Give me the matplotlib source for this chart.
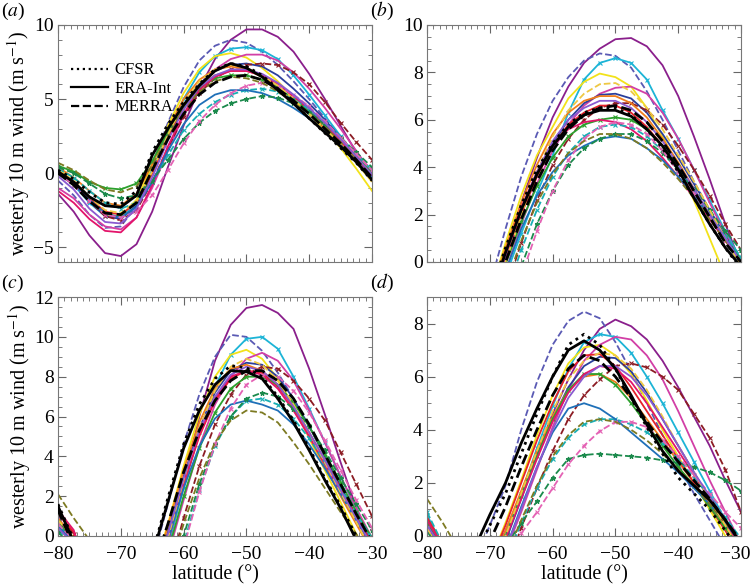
import matplotlib
matplotlib.use("Agg")
import matplotlib.pyplot as plt
from matplotlib.ticker import MultipleLocator
from matplotlib.lines import Line2D
from matplotlib.transforms import ScaledTranslation

plt.rcParams['font.family'] = ['serif']
plt.rcParams['font.serif'] = ['Liberation Serif', 'Times New Roman', 'DejaVu Serif']
plt.rcParams['mathtext.fontset'] = 'stix'

# latitude grid (degrees)
lat = [-80, -77.5, -75, -72.5, -70, -67.5, -65, -62.5, -60, -57.5, -55,
       -52.5, -50, -47.5, -45, -42.5, -40, -37.5, -35, -32.5, -30]
lat_ticks = [-80, -70, -60, -50, -40, -30]

# model line styles (same model = same style in every panel)
model_colors = ['#8a1f8c', '#5a5ab4', '#1cb4d6', '#f2e21a', '#d23fa6', '#2a3f9c',
                '#8c1c24', '#f07d1c', '#e6222a', '#2ca02c', '#e3146a', '#18aeb4',
                '#1f70b8', '#1b8a4c', '#e462b4', '#7d7a22', '#eec843', '#8a5ad0']
model_ls = ['-', '--', '-', '-', '-', '-', '--', '-', '-', '-', '-', '--',
            '-', '--', '--', '--', '--', '-']
model_mk = ['', '', 'x', '', '', '', 'x', '', '', 'x', '', 'x',
            '', '*', 'x', '', '', '']

rean_names = ['CFSR', 'ERA-Int', 'MERRA']
rean_ls = [':', '-', '--']

# ---------------- panel (a) ----------------
rean_a = [
    [0.2, -0.4, -1.3, -2.0, -2.1, -1.2, 1.4, 3.3, 4.8, 6.0, 7.0, 7.4, 7.2, 6.6, 5.7, 4.7, 3.7, 2.7, 1.7, 0.7, -0.5],
    [0.1, -0.6, -1.6, -2.2, -2.3, -1.5, 1.2, 3.0, 4.6, 5.9, 6.9, 7.4, 7.1, 6.5, 5.6, 4.7, 3.7, 2.75, 1.8, 0.75, -0.45],
    [0.0, -0.8, -1.9, -2.7, -2.8, -2.0, 0.2, 2.3, 4.0, 5.3, 6.1, 6.5, 6.6, 6.3, 5.7, 4.9, 4.0, 3.0, 2.0, 0.9, -0.3],
]
models_a = [
    [-1.4, -2.6, -4.2, -5.4, -5.6, -4.8, -2.6, 0.4, 3.2, 5.7, 7.7, 9.0, 9.7, 9.7, 9.2, 8.2, 6.7, 5.0, 3.2, 1.4, -0.4],
    [-0.5, -1.5, -2.8, -3.7, -3.6, -2.2, 0.5, 3.4, 5.8, 7.6, 8.6, 9.0, 8.8, 8.2, 7.3, 6.2, 5.0, 3.7, 2.4, 1.0, -0.4],
    [0.0, -0.8, -2.0, -2.9, -3.0, -2.0, 0.2, 2.8, 5.0, 6.8, 7.9, 8.4, 8.5, 8.3, 7.7, 6.6, 5.3, 3.9, 2.5, 1.1, -0.3],
    [0.3, -0.6, -1.8, -2.8, -2.9, -1.8, 0.5, 3.2, 5.4, 7.0, 7.9, 8.1, 7.8, 7.1, 6.2, 5.1, 4.0, 2.9, 1.7, 0.3, -1.2],
    [-1.0, -1.7, -2.8, -3.6, -3.8, -3.0, -1.0, 1.5, 3.9, 5.8, 7.0, 7.7, 8.0, 8.0, 7.6, 6.8, 5.7, 4.4, 3.0, 1.5, 0.0],
    [0.2, -0.7, -1.9, -2.9, -3.1, -2.2, 0.0, 2.5, 4.6, 6.0, 6.9, 7.3, 7.4, 7.2, 6.6, 5.7, 4.7, 3.6, 2.4, 1.1, -0.2],
    [0.0, -0.8, -1.9, -2.9, -3.2, -2.5, -0.6, 1.7, 3.8, 5.4, 6.4, 7.0, 7.3, 7.4, 7.3, 6.8, 6.0, 4.8, 3.4, 2.1, 0.9],
    [0.4, -0.3, -1.2, -2.0, -2.2, -1.4, 0.6, 3.0, 5.0, 6.3, 7.0, 7.2, 7.0, 6.5, 5.8, 4.9, 4.0, 3.0, 2.0, 0.9, -0.3],
    [0.1, -0.6, -1.7, -2.6, -2.8, -2.0, 0.0, 2.4, 4.4, 5.8, 6.6, 6.9, 6.9, 6.6, 6.0, 5.2, 4.3, 3.3, 2.2, 1.0, -0.2],
    [0.5, 0.1, -0.6, -1.0, -1.1, -0.7, 0.8, 2.8, 4.5, 5.7, 6.4, 6.6, 6.6, 6.3, 5.8, 5.0, 4.2, 3.2, 2.2, 1.1, 0.0],
    [-1.2, -2.0, -3.1, -3.9, -4.0, -3.0, -0.8, 1.8, 4.0, 5.6, 6.5, 6.9, 6.9, 6.6, 6.0, 5.2, 4.3, 3.3, 2.2, 1.0, -0.2],
    [0.3, -0.3, -1.2, -2.0, -2.4, -2.0, -0.6, 1.2, 2.9, 4.0, 4.8, 5.3, 5.6, 5.7, 5.5, 5.0, 4.3, 3.4, 2.4, 1.3, 0.2],
    [0.0, -0.7, -1.8, -2.7, -3.0, -2.3, -0.6, 1.5, 3.3, 4.6, 5.3, 5.6, 5.6, 5.4, 5.0, 4.4, 3.7, 2.8, 1.9, 0.8, -0.3],
    [0.4, 0.0, -0.7, -1.4, -1.7, -1.5, -0.5, 0.9, 2.3, 3.4, 4.2, 4.7, 5.0, 5.2, 5.1, 4.7, 4.1, 3.3, 2.4, 1.4, 0.4],
    [0.0, -0.8, -1.9, -2.8, -3.0, -2.6, -1.5, 0.2, 2.0, 3.5, 4.6, 5.4, 5.9, 6.1, 5.9, 5.3, 4.5, 3.5, 2.4, 1.3, 0.2],
    [0.7, 0.2, -0.5, -1.1, -1.3, -0.9, 0.5, 2.5, 4.3, 5.5, 6.2, 6.5, 6.4, 6.1, 5.5, 4.8, 4.0, 3.1, 2.1, 1.0, -0.1],
    [0.2, -0.5, -1.6, -2.5, -2.7, -1.9, 0.1, 2.6, 4.7, 6.2, 7.0, 7.3, 7.1, 6.6, 5.9, 5.0, 4.0, 3.0, 1.9, 0.7, -0.6],
    [-0.2, -1.1, -2.4, -3.3, -3.4, -2.4, -0.3, 2.2, 4.3, 5.8, 6.6, 7.0, 7.0, 6.7, 6.1, 5.3, 4.4, 3.4, 2.3, 1.1, -0.1],
]

# ---------------- panel (b) ----------------
rean_b = [
    [-2.8, -3.3, -3.6, -3.0, -1.4, 0.6, 2.4, 3.9, 5.0, 5.8, 6.3, 6.5, 6.5, 6.2, 5.6, 4.8, 3.8, 2.7, 1.6, 0.6, -0.3],
    [-3.0, -3.5, -3.8, -3.2, -1.6, 0.4, 2.2, 3.7, 4.9, 5.7, 6.2, 6.4, 6.4, 6.15, 5.6, 4.9, 3.9, 2.7, 1.6, 0.6, -0.2],
    [-3.2, -3.7, -4.0, -3.5, -2.0, 0.0, 1.8, 3.4, 4.7, 5.6, 6.2, 6.5, 6.6, 6.4, 5.9, 5.1, 4.1, 3.0, 1.9, 0.8, 0.0],
]
models_b = [
    [-4.0, -4.5, -4.5, -4.0, -2.5, 0.3, 2.5, 4.4, 6.1, 7.4, 8.4, 9.0, 9.4, 9.45, 9.1, 8.3, 7.0, 5.3, 3.5, 1.6, -0.1],
    [-3.0, -3.5, -3.5, -2.8, -1.0, 1.4, 3.6, 5.4, 6.8, 7.8, 8.5, 8.8, 8.7, 8.2, 7.2, 6.0, 4.7, 3.4, 2.2, 1.0, -0.2],
    [-4.0, -4.5, -4.5, -4.0, -2.5, -0.6, 1.2, 2.9, 4.5, 6.3, 7.7, 8.4, 8.6, 8.4, 7.7, 6.4, 5.2, 3.9, 2.6, 1.3, 0.1],
    [-3.5, -4.0, -4.0, -3.3, -1.4, 0.8, 2.8, 4.5, 5.7, 6.9, 7.6, 7.95, 7.8, 7.4, 6.5, 5.3, 4.0, 2.6, 1.0, -0.6, -2.0],
    [-4.5, -5.0, -5.0, -4.5, -2.6, -0.4, 1.6, 3.3, 4.7, 5.8, 6.6, 7.1, 7.35, 7.4, 7.1, 6.3, 5.2, 3.9, 2.5, 1.2, 0.0],
    [-4.0, -4.5, -4.5, -3.8, -2.0, 0.2, 2.1, 3.7, 5.0, 6.0, 6.7, 7.05, 7.1, 6.9, 6.3, 5.4, 4.4, 3.3, 2.2, 1.1, 0.0],
    [-5.0, -5.5, -5.5, -5.0, -3.5, -1.2, 0.8, 2.6, 4.1, 5.2, 6.0, 6.5, 6.7, 6.7, 6.4, 5.8, 4.9, 3.9, 2.8, 1.6, 0.5],
    [-3.5, -4.0, -4.0, -3.3, -1.5, 0.6, 2.5, 4.1, 5.4, 6.3, 6.8, 7.0, 7.0, 6.7, 6.1, 5.2, 4.2, 3.1, 2.0, 1.0, 0.0],
    [-4.0, -4.5, -4.5, -3.8, -2.0, 0.1, 2.0, 3.6, 4.9, 5.8, 6.3, 6.6, 6.6, 6.3, 5.7, 4.9, 3.9, 2.9, 1.9, 0.9, 0.0],
    [-4.0, -4.5, -4.5, -4.0, -2.2, -0.1, 1.7, 3.2, 4.4, 5.3, 5.8, 6.0, 6.1, 6.0, 5.6, 4.9, 4.0, 3.0, 2.0, 1.0, 0.1],
    [-3.5, -4.0, -4.0, -3.5, -1.8, 0.4, 2.3, 3.8, 4.9, 5.6, 5.9, 6.0, 5.9, 5.6, 5.1, 4.4, 3.6, 2.7, 1.8, 0.9, 0.0],
    [-5.0, -5.5, -5.5, -5.0, -3.5, -1.4, 0.5, 2.2, 3.6, 4.6, 5.3, 5.7, 5.8, 5.7, 5.3, 4.7, 3.9, 3.0, 2.0, 1.1, 0.2],
    [-4.5, -5.0, -5.0, -4.2, -2.5, -0.4, 1.4, 2.8, 3.8, 4.5, 4.9, 5.2, 5.3, 5.2, 4.8, 4.3, 3.6, 2.8, 1.9, 1.0, 0.0],
    [-6.0, -6.5, -6.5, -6.0, -4.5, -2.2, -0.2, 1.6, 3.0, 4.1, 4.8, 5.2, 5.4, 5.4, 5.1, 4.6, 3.9, 3.1, 2.2, 1.3, 0.5],
    [-6.0, -6.5, -6.5, -6.0, -5.0, -2.8, -0.6, 1.3, 3.0, 4.3, 5.2, 5.7, 5.9, 5.8, 5.4, 4.7, 3.8, 2.9, 1.9, 0.9, 0.0],
    [-5.0, -5.5, -5.5, -4.8, -3.2, -1.0, 0.9, 2.5, 3.7, 4.6, 5.1, 5.4, 5.4, 5.2, 4.8, 4.2, 3.5, 2.7, 1.8, 0.9, 0.0],
    [-4.0, -4.5, -4.5, -3.8, -2.2, 0.0, 2.0, 3.8, 5.3, 6.4, 7.1, 7.5, 7.55, 7.2, 6.5, 5.6, 4.5, 3.4, 2.2, 1.0, -0.2],
    [-3.8, -4.3, -4.3, -3.6, -1.9, 0.3, 2.2, 3.8, 5.1, 6.0, 6.5, 6.8, 6.8, 6.5, 5.9, 5.1, 4.1, 3.1, 2.0, 1.0, 0.0],
]

# ---------------- panel (c) ----------------
rean_c = [
    [1.6, -0.2, -1.9, -2.9, -3.4, -2.7, -0.9, 1.9, 4.6, 6.6, 7.9, 8.55, 8.45, 8.0, 7.0, 5.8, 4.4, 2.9, 1.5, 0.0, -1.3],
    [1.5, -0.3, -2.0, -3.0, -3.5, -2.8, -1.0, 1.7, 4.4, 6.3, 7.6, 8.3, 8.25, 7.9, 6.9, 5.7, 4.3, 2.8, 1.4, -0.2, -1.5],
    [1.3, -0.5, -2.2, -3.2, -3.7, -3.2, -1.8, 0.6, 3.2, 5.3, 6.8, 7.8, 8.3, 8.3, 7.8, 6.9, 5.6, 4.1, 2.6, 1.1, -0.3],
]
models_c = [
    [0.8, -0.3, -3.0, -4.5, -5.0, -4.0, -2.0, -0.6, 2.6, 6.0, 8.8, 10.6, 11.45, 11.6, 11.2, 10.4, 8.4, 6.1, 3.7, 1.4, -0.4],
    [1.0, -0.2, -2.6, -3.8, -4.2, -3.4, -1.3, 1.6, 4.6, 7.1, 9.0, 10.1, 10.0, 9.3, 8.2, 6.9, 5.5, 4.0, 2.5, 1.0, -0.5],
    [0.6, -0.3, -2.8, -4.0, -4.6, -4.4, -3.0, -0.5, 2.4, 5.2, 7.5, 9.1, 9.9, 10.0, 9.4, 8.0, 6.4, 4.7, 3.0, 1.3, -0.2],
    [0.4, -0.4, -2.8, -4.0, -4.4, -3.8, -2.0, 0.6, 3.5, 6.1, 8.0, 9.1, 9.35, 8.9, 7.9, 6.5, 4.9, 3.3, 1.7, 0.1, -1.5],
    [0.9, -0.2, -2.5, -3.8, -4.6, -4.5, -3.5, -1.0, 1.8, 4.5, 6.6, 8.0, 8.9, 9.2, 8.8, 7.8, 6.3, 4.7, 3.0, 1.4, -0.1],
    [0.5, -0.4, -2.8, -4.0, -4.5, -4.0, -2.4, 0.2, 3.0, 5.4, 7.2, 8.3, 8.7, 8.6, 8.0, 6.9, 5.5, 4.0, 2.5, 1.0, -0.4],
    [1.2, 0.1, -2.2, -3.5, -4.5, -5.0, -4.5, -2.0, 0.9, 3.5, 5.6, 7.1, 8.1, 8.5, 8.4, 7.8, 6.9, 5.8, 4.2, 2.6, 1.0],
    [0.9, -0.1, -2.4, -3.6, -4.1, -3.7, -2.2, 0.5, 3.3, 5.7, 7.4, 8.4, 8.6, 8.3, 7.6, 6.4, 5.0, 3.5, 2.0, 0.6, -0.8],
    [1.1, 0.2, -2.3, -3.6, -4.2, -4.0, -2.8, -0.2, 2.6, 5.0, 6.8, 7.9, 8.3, 8.2, 7.5, 6.5, 5.2, 3.8, 2.4, 1.0, -0.4],
    [0.7, -0.2, -2.6, -3.9, -4.6, -4.6, -3.5, -0.8, 2.0, 4.4, 6.2, 7.4, 8.0, 8.0, 7.6, 6.7, 5.5, 4.1, 2.7, 1.2, -0.1],
    [1.3, 0.3, -2.2, -3.5, -4.1, -3.9, -3.0, -0.3, 2.6, 5.1, 6.9, 8.0, 8.3, 8.1, 7.4, 6.3, 5.0, 3.6, 2.2, 0.8, -0.6],
    [0.3, -0.5, -2.9, -4.3, -5.2, -5.8, -5.5, -3.0, -0.4, 2.3, 4.5, 6.0, 6.8, 6.9, 6.6, 5.9, 4.9, 3.7, 2.4, 1.1, -0.1],
    [0.5, -0.3, -2.8, -4.0, -4.5, -4.0, -2.8, -0.2, 2.4, 4.5, 5.9, 6.6, 6.8, 6.6, 6.3, 5.6, 4.6, 3.4, 2.1, 0.8, -0.5],
    [0.2, -0.6, -3.0, -4.4, -5.3, -5.8, -5.5, -2.7, 0.0, 2.6, 4.6, 6.0, 6.9, 7.2, 7.0, 6.4, 5.5, 4.3, 2.9, 1.6, 0.3],
    [0.6, -0.2, -2.6, -4.0, -5.2, -6.0, -6.5, -3.5, -0.6, 2.2, 4.6, 6.4, 7.6, 8.1, 8.0, 7.3, 6.2, 4.8, 3.3, 1.8, 0.4],
    [2.1, 0.9, -0.2, -2.0, -3.5, -4.0, -4.0, -2.0, 0.6, 2.9, 4.7, 5.8, 6.3, 6.2, 5.7, 4.7, 3.6, 2.4, 1.2, 0.1, -1.0],
    [0.8, -0.1, -2.5, -3.8, -4.3, -3.9, -2.8, -0.1, 2.8, 5.4, 7.3, 8.5, 8.9, 8.6, 7.8, 6.6, 5.2, 3.7, 2.2, 0.7, -0.8],
    [0.4, -0.4, -2.8, -4.0, -4.5, -4.0, -2.6, 0.1, 2.9, 5.3, 7.0, 8.1, 8.5, 8.3, 7.6, 6.5, 5.2, 3.8, 2.3, 0.9, -0.5],
]

# ---------------- panel (d) ----------------
rean_d = [
    [-1.0, -2.0, -2.0, -0.8, 0.4, 1.6, 3.1, 4.6, 6.0, 7.2, 7.6, 7.2, 6.3, 5.2, 4.1, 3.1, 2.2, 1.6, 1.0, 0.2, -0.6],
    [-1.0, -2.0, -2.0, -0.5, 0.8, 2.0, 3.5, 4.8, 6.0, 7.0, 7.35, 7.0, 6.3, 5.3, 4.2, 3.2, 2.45, 1.9, 1.35, 0.6, -0.3],
    [-1.2, -2.2, -2.5, -1.5, -0.2, 1.1, 2.6, 4.0, 5.3, 6.3, 6.8, 6.6, 6.0, 5.2, 4.3, 3.5, 2.8, 2.1, 1.4, 0.6, -0.2],
]
models_d = [
    [0.3, -0.5, -2.0, -2.5, -1.0, 0.2, 1.6, 3.1, 4.6, 5.9, 7.0, 7.8, 8.15, 7.9, 7.4, 6.6, 5.6, 4.5, 3.4, 2.1, 0.9],
    [0.2, -0.6, -2.0, -1.0, 0.4, 1.9, 4.0, 5.8, 7.2, 8.1, 8.45, 8.2, 7.3, 6.2, 5.0, 3.8, 2.7, 1.6, 0.6, -0.4, -1.4],
    [0.8, -0.4, -2.0, -2.5, -1.5, 0.0, 1.6, 3.3, 4.9, 6.3, 7.3, 7.6, 7.5, 6.9, 6.0, 5.0, 3.9, 2.8, 1.7, 0.6, -0.5],
    [0.3, -0.6, -2.0, -2.3, -1.0, 0.5, 2.1, 3.8, 5.3, 6.5, 7.1, 7.2, 6.8, 6.1, 5.1, 4.0, 3.0, 2.0, 1.0, 0.0, -1.0],
    [0.5, -0.5, -2.0, -3.0, -2.0, -0.6, 0.9, 2.5, 4.1, 5.5, 6.6, 7.2, 7.5, 7.4, 6.8, 5.9, 4.7, 3.4, 2.1, 0.9, -0.3],
    [0.4, -0.5, -2.0, -2.8, -1.8, -0.2, 1.4, 3.0, 4.4, 5.6, 6.4, 6.75, 6.7, 6.2, 5.4, 4.4, 3.4, 2.4, 1.4, 0.4, -0.6],
    [0.3, -0.6, -2.0, -3.5, -3.0, -1.3, 0.3, 1.8, 3.2, 4.4, 5.3, 5.9, 6.4, 6.5, 6.35, 6.0, 5.5, 4.6, 3.7, 2.5, 0.9],
    [0.6, -0.4, -2.0, -2.2, -1.2, 0.2, 1.7, 3.2, 4.5, 5.5, 6.0, 6.1, 5.8, 5.2, 4.4, 3.6, 2.8, 2.0, 1.2, 0.4, -0.4],
    [0.7, -0.3, -2.0, -2.0, -1.0, 0.4, 2.0, 3.6, 5.0, 6.2, 6.8, 6.85, 6.4, 5.6, 4.7, 3.8, 2.9, 2.0, 1.1, 0.2, -0.7],
    [0.5, -0.5, -2.0, -2.4, -1.5, 0.0, 1.5, 3.0, 4.4, 5.5, 6.1, 6.1, 5.7, 5.0, 4.2, 3.4, 2.6, 1.9, 1.1, 0.3, -0.5],
    [0.6, -0.4, -2.0, -2.6, -1.6, -0.1, 1.4, 2.9, 4.3, 5.4, 6.1, 6.4, 6.3, 5.8, 5.0, 4.1, 3.2, 2.3, 1.4, 0.5, -0.4],
    [0.9, -0.3, -2.0, -3.5, -2.5, -1.0, 0.5, 1.8, 2.9, 3.7, 4.2, 4.4, 4.4, 4.2, 3.9, 3.5, 2.9, 2.2, 1.5, 0.7, -0.1],
    [0.4, -0.5, -2.0, -3.0, -2.0, -0.5, 1.1, 2.6, 3.9, 4.8, 5.0, 4.8, 4.4, 3.9, 3.4, 2.9, 2.4, 1.8, 1.2, 0.5, -0.3],
    [0.2, -0.8, -2.5, -2.5, -1.2, -0.4, 0.5, 1.3, 2.2, 2.9, 3.05, 3.1, 3.05, 3.0, 2.95, 2.85, 2.75, 2.6, 2.4, 2.1, 1.7],
    [0.3, -0.6, -2.0, -3.5, -2.5, -1.0, 0.1, 0.9, 1.8, 2.7, 3.4, 3.95, 4.3, 4.3, 4.1, 3.6, 3.0, 2.3, 1.6, 0.9, 0.3],
    [1.4, 0.5, -0.5, -1.5, -2.0, -0.8, 0.6, 1.9, 3.0, 3.8, 4.3, 4.4, 4.3, 4.0, 3.6, 3.1, 2.5, 1.9, 1.2, 0.5, -0.2],
    [0.3, -0.6, -2.0, -2.6, -1.5, 0.0, 1.6, 3.2, 4.7, 5.9, 6.6, 6.9, 6.8, 6.3, 5.5, 4.5, 3.4, 2.4, 1.4, 0.4, -0.6],
    [0.4, -0.5, -2.0, -3.0, -2.0, -0.5, 1.0, 2.6, 4.0, 5.2, 6.0, 6.4, 6.4, 6.0, 5.3, 4.4, 3.4, 2.4, 1.5, 0.6, -0.3],
]

panels = [
    ('a', models_a, rean_a, (-6, 10), 5, 1),
    ('b', models_b, rean_b, (0, 10), 2, 0.5),
    ('c', models_c, rean_c, (0, 12), 2, 0.5),
    ('d', models_d, rean_d, (0, 9), 2, 0.5),
]

# axes rectangles in figure fractions (left, bottom, width, height)
rects = [(0.0768, 0.5514, 0.4159, 0.4058), (0.5656, 0.5514, 0.4159, 0.4058),
         (0.0768, 0.0822, 0.4159, 0.4092), (0.5656, 0.0822, 0.4159, 0.4092)]

fig = plt.figure(figsize=(7.55, 5.84), dpi=100)

for (tag, models, rean, ylim, ymaj, ymin), rect in zip(panels, rects):
    ax = fig.add_axes(rect)
    for vals, c, ls, mk in zip(models, model_colors, model_ls, model_mk):
        ax.plot(lat, vals, color=c, ls=ls, lw=1.3, marker=mk or None,
                ms=3.5, mew=0.8)
    for vals, ls in zip(rean, rean_ls):
        ax.plot(lat, vals, color='black', ls=ls, lw=2.0, zorder=5)

    ax.set_xlim(-80, -30)
    ax.set_ylim(*ylim)
    ax.set_xticks(lat_ticks)
    ax.xaxis.set_minor_locator(MultipleLocator(1))
    ax.yaxis.set_major_locator(MultipleLocator(ymaj))
    ax.yaxis.set_minor_locator(MultipleLocator(ymin))
    ax.tick_params(which='both', direction='in', top=True, right=True,
                   color='#666666', labelsize=14)
    ax.tick_params(axis='y', pad=3)
    ax.tick_params(axis='x', pad=7)
    ax.tick_params(which='major', length=6)
    ax.tick_params(which='minor', length=3)
    for sp in ax.spines.values():
        sp.set_color('#777777')
        sp.set_linewidth(0.8)

    if tag in ('a', 'b'):
        ax.set_xticklabels([])
    else:
        ax.set_xlabel('latitude (°)', fontsize=14.5, labelpad=1.5)
        if tag == 'd':
            last = ax.xaxis.get_major_ticks()[-1].label1
            last.set_transform(last.get_transform() +
                               ScaledTranslation(-4 / 72, 0, fig.dpi_scale_trans))
    if tag in ('a', 'c'):
        ax.set_ylabel(r'westerly 10 m wind (m s$^{-1}$)', fontsize=14.5, labelpad=1)

    fig.text(rect[0] - 0.075, rect[1] + rect[3] + 0.005, r'($\mathit{%s}$)' % tag,
             fontsize=14, ha='left', va='bottom')

    if tag == 'a':
        handles = [Line2D([], [], color='black', ls=ls, lw=1.6) for ls in rean_ls]
        ax.legend(handles, rean_names, loc='upper left', bbox_to_anchor=(0.02, 0.87),
                  frameon=False, fontsize=12, handlelength=2.2, labelspacing=0.15,
                  handletextpad=0.4, borderaxespad=0)

fig.savefig('out.png', dpi=100)
